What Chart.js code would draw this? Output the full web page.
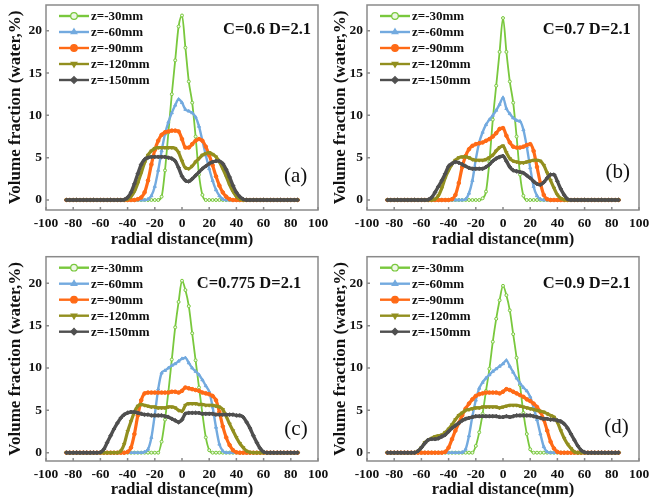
<!DOCTYPE html>
<html>
<head>
<meta charset="utf-8">
<script src="https://cdn.jsdelivr.net/npm/chart.js@4.4.0/dist/chart.umd.min.js"></script>
<style>
  html, body { margin: 0; padding: 0; background: #fff; }
  #wrap { position: relative; width: 661px; height: 502px; }
  #wrap canvas { position: absolute; }
</style>
</head>
<body>
<div id="wrap">
  <canvas id="chart-a" width="330" height="250" style="left:0;top:0"></canvas>
  <canvas id="chart-b" width="331" height="250" style="left:330px;top:0"></canvas>
  <canvas id="chart-c" width="330" height="252" style="left:0;top:250px"></canvas>
  <canvas id="chart-d" width="331" height="252" style="left:330px;top:250px"></canvas>
</div>
<script>
// radial positions (mm) shared by every profile
const radial = [-85, -82.5, -80, -77.5, -75, -72.5, -70, -67.5, -65, -62.5, -60, -57.5, -55, -52.5,
  -50, -47.5, -45, -42.5, -40, -37.5, -35, -32.5, -30, -27.5, -25, -22.5, -20, -17.5, -15, -12.5,
  -10, -7.5, -5, -2.5, 0, 2.5, 5, 7.5, 10, 12.5, 15, 17.5, 20, 22.5, 25, 27.5, 30, 32.5, 35, 37.5,
  40, 42.5, 45, 47.5, 50, 52.5, 55, 57.5, 60, 62.5, 65, 67.5, 70, 72.5, 75, 77.5, 80, 82.5, 85];

const seriesLabels = ['z=-30mm', 'z=-60mm', 'z=-90mm', 'z=-120mm', 'z=-150mm'];
const xTicks = [-100, -80, -60, -40, -20, 0, 20, 40, 60, 80, 100];
const yTicks = [0, 5, 10, 15, 20];

// C=0.6 D=2.1
const a_z30 = [0, 0, 0, 0, 0, 0, 0, 0, 0, 0, 0, 0, 0, 0, 0, 0, 0, 0, 0, 0, 0, 0, 0, 0, 0, 0, 0, 0,
  0.4, 3.5, 8.0, 12.5, 16.5, 20.5, 21.8, 18.0, 14.0, 11.5, 7.5, 3.0, 0.6,
  0, 0, 0, 0, 0, 0, 0, 0, 0, 0, 0, 0, 0, 0, 0, 0, 0, 0, 0, 0, 0, 0, 0, 0, 0, 0, 0, 0];
const a_z60 = [0, 0, 0, 0, 0, 0, 0, 0, 0, 0, 0, 0, 0, 0, 0, 0, 0, 0, 0, 0, 0, 0, 0, 0,
  0.1, 0.5, 1.6, 3.5, 5.8, 7.8, 9.2, 10.3, 11.2, 11.9, 11.5, 10.7, 10.5, 10.3, 9.8, 8.7, 7.0, 5.3, 3.7, 2.3, 1.2, 0.5, 0.1,
  0, 0, 0, 0, 0, 0, 0, 0, 0, 0, 0, 0, 0, 0, 0, 0, 0, 0, 0, 0, 0, 0];
const a_z90 = [0, 0, 0, 0, 0, 0, 0, 0, 0, 0, 0, 0, 0, 0, 0, 0, 0, 0, 0, 0, 0,
  0.1, 0.3, 0.9, 2.3, 4.2, 5.9, 7.0, 7.7, 8.0, 8.1, 8.2, 8.2, 8.1, 7.2, 6.2, 6.2, 6.6, 7.0, 7.2, 7.0, 6.3, 5.3, 4.1, 2.8, 1.7, 0.9, 0.4, 0.1,
  0, 0, 0, 0, 0, 0, 0, 0, 0, 0, 0, 0, 0, 0, 0, 0, 0, 0, 0, 0];
const a_z120 = [0, 0, 0, 0, 0, 0, 0, 0, 0, 0, 0, 0, 0, 0, 0, 0, 0, 0,
  0.1, 0.4, 1.0, 2.0, 3.2, 4.4, 5.3, 5.8, 6.1, 6.2, 6.2, 6.2, 6.2, 6.2, 6.1, 5.6, 4.6,
  3.8, 3.7, 4.0, 4.5, 4.9, 5.3, 5.5, 5.6, 5.4, 5.1, 4.5, 3.7, 2.8, 1.8, 1.0, 0.4, 0.1,
  0, 0, 0, 0, 0, 0, 0, 0, 0, 0, 0, 0, 0, 0, 0, 0, 0];
const a_z150 = [0, 0, 0, 0, 0, 0, 0, 0, 0, 0, 0, 0, 0, 0, 0, 0, 0,
  0.05, 0.3, 0.9, 1.9, 3.1, 4.2, 4.8, 5.0, 5.1, 5.1, 5.1, 5.1, 5.1, 5.0, 4.9, 4.6, 3.8, 2.8,
  2.3, 2.2, 2.5, 2.9, 3.3, 3.7, 4.0, 4.3, 4.5, 4.6, 4.6, 4.3, 3.6, 2.7, 1.7, 0.9, 0.4, 0.1,
  0, 0, 0, 0, 0, 0, 0, 0, 0, 0, 0, 0, 0, 0, 0, 0];

// C=0.7 D=2.1
const b_z30 = [0, 0, 0, 0, 0, 0, 0, 0, 0, 0, 0, 0, 0, 0, 0, 0, 0, 0, 0, 0, 0, 0, 0, 0, 0, 0, 0, 0,
  0.2, 1.0, 4.5, 9.5, 13.5, 17.5, 21.5, 17.5, 14.0, 11.5, 7.5, 3.0, 0.5,
  0, 0, 0, 0, 0, 0, 0, 0, 0, 0, 0, 0, 0, 0, 0, 0, 0, 0, 0, 0, 0, 0, 0, 0, 0, 0, 0, 0];
const b_z60 = [0, 0, 0, 0, 0, 0, 0, 0, 0, 0, 0, 0, 0, 0, 0, 0, 0, 0, 0, 0, 0, 0, 0,
  0.1, 0.8, 2.3, 4.8, 6.8, 8.0, 8.9, 9.5, 10.0, 10.6, 11.3, 12.1,
  10.8, 10.2, 9.7, 9.4, 9.3, 8.3, 6.3, 3.8, 1.6, 0.5, 0.1,
  0, 0, 0, 0, 0, 0, 0, 0, 0, 0, 0, 0, 0, 0, 0, 0, 0, 0, 0, 0, 0, 0, 0];
const b_z90 = [0, 0, 0, 0, 0, 0, 0, 0, 0, 0, 0, 0, 0, 0, 0, 0, 0, 0, 0,
  0.1, 0.6, 2.0, 3.9, 5.2, 6.0, 6.4, 6.6, 6.7, 6.8, 7.0, 7.2, 7.5, 7.9, 8.4, 8.5,
  7.6, 6.8, 6.3, 6.2, 6.2, 6.3, 6.5, 6.6, 5.8, 3.9, 2.0, 0.6, 0.1,
  0, 0, 0, 0, 0, 0, 0, 0, 0, 0, 0, 0, 0, 0, 0, 0, 0, 0, 0, 0, 0];
const b_z120 = [0, 0, 0, 0, 0, 0, 0, 0, 0, 0, 0, 0, 0, 0,
  0.1, 0.5, 1.4, 2.6, 3.5, 4.2, 4.7, 5.0, 5.1, 5.1, 5.0, 4.8, 4.7, 4.7, 4.7, 4.8, 5.0, 5.3, 5.8, 6.2, 6.4,
  5.6, 4.9, 4.6, 4.5, 4.4, 4.4, 4.5, 4.6, 4.7, 4.7, 4.6, 4.1, 3.2, 2.3, 1.4, 0.6, 0.2, 0.05,
  0, 0, 0, 0, 0, 0, 0, 0, 0, 0, 0, 0, 0, 0, 0, 0];
const b_z150 = [0, 0, 0, 0, 0, 0, 0, 0, 0, 0, 0, 0,
  0.05, 0.3, 0.9, 1.6, 2.3, 3.1, 4.0, 4.3, 4.5, 4.4, 4.2, 4.0, 3.8, 3.7, 3.7, 3.7, 3.7, 3.9, 4.2, 4.6, 4.9, 5.1, 5.2,
  4.6, 3.9, 3.5, 3.4, 3.3, 3.2, 2.9, 2.6, 2.2, 1.9, 1.8, 2.1, 2.6, 3.0, 3.0, 2.2, 1.3, 0.6, 0.1,
  0, 0, 0, 0, 0, 0, 0, 0, 0, 0, 0, 0, 0, 0, 0];

// C=0.775 D=2.1
const c_z30 = [0, 0, 0, 0, 0, 0, 0, 0, 0, 0, 0, 0, 0, 0, 0, 0, 0, 0, 0, 0, 0, 0, 0, 0, 0, 0, 0, 0,
  1.3, 3.9, 7.2, 11.0, 14.8, 17.8, 20.3, 19.2, 17.3, 14.1, 10.9, 7.7, 4.6, 1.8, 0.3,
  0, 0, 0, 0, 0, 0, 0, 0, 0, 0, 0, 0, 0, 0, 0, 0, 0, 0, 0, 0, 0, 0, 0, 0, 0, 0];
const c_z60 = [0, 0, 0, 0, 0, 0, 0, 0, 0, 0, 0, 0, 0, 0, 0, 0, 0, 0, 0, 0, 0, 0, 0,
  0.1, 0.4, 1.8, 4.5, 7.5, 9.4, 9.7, 10.0, 10.3, 10.5, 10.8, 11.1,
  11.2, 10.6, 10.0, 9.6, 9.2, 8.6, 7.9, 7.2, 5.4, 3.0, 1.0, 0.2,
  0, 0, 0, 0, 0, 0, 0, 0, 0, 0, 0, 0, 0, 0, 0, 0, 0, 0, 0, 0, 0, 0];
const c_z90 = [0, 0, 0, 0, 0, 0, 0, 0, 0, 0, 0, 0, 0, 0, 0, 0, 0, 0,
  0.1, 0.6, 2.2, 4.4, 6.2, 7.0, 7.1, 7.1, 7.1, 7.1, 7.1, 7.1, 7.1, 7.2, 7.2, 7.1, 7.3,
  7.7, 7.6, 7.5, 7.4, 7.3, 7.1, 7.0, 6.9, 6.7, 6.2, 4.8, 3.1, 1.8, 0.9, 0.3, 0.05,
  0, 0, 0, 0, 0, 0, 0, 0, 0, 0, 0, 0, 0, 0, 0, 0, 0, 0];
const c_z120 = [0, 0, 0, 0, 0, 0, 0, 0, 0, 0, 0, 0, 0, 0, 0, 0,
  0.2, 1.0, 2.5, 3.7, 4.8, 5.5, 5.7, 5.6, 5.5, 5.4, 5.4, 5.3, 5.3, 5.3, 5.4, 5.4, 5.3, 5.0, 4.9,
  5.6, 5.8, 5.8, 5.8, 5.7, 5.7, 5.6, 5.6, 5.6, 5.5, 5.4, 5.1, 4.3, 3.4, 2.6, 1.8, 1.1, 0.6, 0.2, 0.05,
  0, 0, 0, 0, 0, 0, 0, 0, 0, 0, 0, 0, 0, 0];
const c_z150 = [0, 0, 0, 0, 0, 0, 0, 0, 0, 0,
  0.05, 0.4, 1.2, 2.0, 2.8, 3.5, 4.1, 4.5, 4.7, 4.8, 4.8, 4.7, 4.6, 4.5, 4.5, 4.4, 4.4, 4.4, 4.4, 4.3, 4.2, 4.0, 3.8, 3.6, 3.9,
  4.6, 4.7, 4.7, 4.7, 4.7, 4.6, 4.6, 4.6, 4.6, 4.5, 4.5, 4.5, 4.5, 4.5, 4.5, 4.4, 4.4, 4.2, 3.6, 2.9, 2.0, 1.2, 0.5, 0.1,
  0, 0, 0, 0, 0, 0, 0, 0, 0, 0];

// C=0.9 D=2.1
const d_z30 = [0, 0, 0, 0, 0, 0, 0, 0, 0, 0, 0, 0, 0, 0, 0, 0, 0, 0, 0, 0, 0, 0, 0, 0, 0, 0,
  0.8, 2.4, 4.6, 7.3, 9.9, 13.1, 15.8, 18.0, 19.7, 18.6, 16.8, 14.0, 11.2, 8.0, 4.7, 2.2, 0.4,
  0, 0, 0, 0, 0, 0, 0, 0, 0, 0, 0, 0, 0, 0, 0, 0, 0, 0, 0, 0, 0, 0, 0, 0, 0, 0];
const d_z60 = [0, 0, 0, 0, 0, 0, 0, 0, 0, 0, 0, 0, 0, 0, 0, 0, 0, 0, 0, 0, 0, 0,
  0.05, 0.4, 2.0, 4.3, 6.2, 7.6, 8.3, 8.8, 9.2, 9.6, 9.9, 10.2, 10.5,
  10.9, 10.2, 9.5, 8.8, 8.2, 7.7, 7.3, 6.6, 5.3, 3.9, 2.2, 0.7, 0.1,
  0, 0, 0, 0, 0, 0, 0, 0, 0, 0, 0, 0, 0, 0, 0, 0, 0, 0, 0, 0, 0];
const d_z90 = [0, 0, 0, 0, 0, 0, 0, 0, 0, 0, 0, 0, 0, 0, 0, 0, 0,
  0.1, 0.6, 1.6, 2.6, 3.5, 4.4, 5.2, 5.8, 6.3, 6.7, 6.9, 7.0, 7.1, 7.1, 7.1, 7.1, 7.0, 7.2,
  7.5, 7.4, 7.2, 7.0, 6.8, 6.6, 6.3, 6.1, 5.8, 5.4, 4.8, 3.9, 2.6, 1.3, 0.5, 0.1,
  0, 0, 0, 0, 0, 0, 0, 0, 0, 0, 0, 0, 0, 0, 0, 0, 0, 0];
const d_z120 = [0, 0, 0, 0, 0, 0, 0, 0, 0,
  0.2, 0.6, 1.2, 1.5, 1.7, 1.9, 2.0, 2.1, 2.4, 2.8, 3.3, 3.9, 4.4, 4.7, 5.0, 5.1, 5.2, 5.3, 5.3, 5.4, 5.4, 5.4, 5.4, 5.4, 5.3, 5.4,
  5.5, 5.6, 5.6, 5.6, 5.5, 5.4, 5.3, 5.2, 5.1, 5.0, 4.9, 4.8, 4.6, 4.4, 4.2, 3.6, 2.6, 1.7, 1.0, 0.5, 0.1,
  0, 0, 0, 0, 0, 0, 0, 0, 0, 0, 0, 0, 0];
const d_z150 = [0, 0, 0, 0, 0, 0, 0, 0, 0,
  0.2, 0.6, 1.1, 1.5, 1.6, 1.6, 1.7, 1.9, 2.1, 2.5, 2.9, 3.2, 3.5, 3.8, 4.0, 4.1, 4.2, 4.3, 4.3, 4.3, 4.3, 4.3, 4.3, 4.3, 4.2, 4.2,
  4.3, 4.2, 4.3, 4.4, 4.4, 4.4, 4.4, 4.4, 4.3, 4.2, 4.1, 4.0, 4.0, 3.9, 3.9, 3.8, 3.7, 3.4, 2.9, 2.2, 1.5, 0.8, 0.3, 0.05,
  0, 0, 0, 0, 0, 0, 0, 0, 0, 0];

const serif = '"Liberation Serif", "Times New Roman", serif';

// one entry per profile depth: colour, marker and line weight
const lineStyles = [
  { color: '#79c83d', pointStyle: 'circle', fill: '#eef8e6', radius: 1.5, width: 1.8 },
  { color: '#73aadf', pointStyle: 'triangle', radius: 1.8, width: 2.4 },
  { color: '#ff6a16', pointStyle: 'circle', radius: 1.8, width: 3.2 },
  { color: '#928f1f', pointStyle: 'triangle', rotation: 180, radius: 1.9, width: 3.2 },
  { color: '#4f4f4f', pointStyle: 'rectRot', radius: 1.9, width: 3.4 },
];

const panels = [
  { id: 'chart-a', caption: 'C=0.6 D=2.1', tag: '(a)', series: [a_z30, a_z60, a_z90, a_z120, a_z150],
    yMin: -1.18, yMax: 23.04, pad: { left: 5, top: 5, right: 12, bottom: 0 }, yWidth: 41, xHeight: 40,
    captionAt: [62.5, 20.1], tagAt: [83.5, 2.8] },
  { id: 'chart-b', caption: 'C=0.7 D=2.1', tag: '(b)', series: [b_z30, b_z60, b_z90, b_z120, b_z150],
    yMin: -1.18, yMax: 23.04, pad: { left: 0, top: 5, right: 22, bottom: 0 }, yWidth: 37, xHeight: 40,
    captionAt: [61.6, 20.1], tagAt: [84.3, 3.2] },
  { id: 'chart-c', caption: 'C=0.775 D=2.1', tag: '(c)', series: [c_z30, c_z60, c_z90, c_z120, c_z150],
    yMin: -0.98, yMax: 23.14, pad: { left: 5, top: 6.7, right: 12, bottom: 2 }, yWidth: 41, xHeight: 39,
    captionAt: [49.3, 20.0], tagAt: [83.8, 2.7] },
  { id: 'chart-d', caption: 'C=0.9 D=2.1', tag: '(d)', series: [d_z30, d_z60, d_z90, d_z120, d_z150],
    yMin: -0.98, yMax: 23.14, pad: { left: 0, top: 6.7, right: 22, bottom: 2 }, yWidth: 37, xHeight: 39,
    captionAt: [61.6, 20.0], tagAt: [83.5, 3.0] },
];

// frame, inward ticks, inset legend and the panel texts
const panelDecor = {
  id: 'panelDecor',
  afterDatasetsDraw(chart, args, opts) {
    const { ctx, chartArea: a, scales: { x, y } } = chart;
    ctx.save();
    ctx.strokeStyle = '#8a8a8a';
    ctx.lineWidth = 1.5;
    ctx.strokeRect(a.left, a.top, a.right - a.left, a.bottom - a.top);
    ctx.beginPath();
    x.ticks.forEach(t => {
      const px = x.getPixelForValue(t.value);
      ctx.moveTo(px, a.bottom); ctx.lineTo(px, a.bottom - 3);
    });
    y.ticks.forEach(t => {
      const py = y.getPixelForValue(t.value);
      ctx.moveTo(a.left, py); ctx.lineTo(a.left + 3, py);
    });
    ctx.stroke();

    // legend
    ctx.font = 'bold 13px ' + serif;
    ctx.textBaseline = 'middle';
    ctx.textAlign = 'left';
    seriesLabels.forEach((label, i) => {
      const st = lineStyles[i];
      const ly = a.top + 11 + i * 16;
      ctx.strokeStyle = st.color;
      ctx.lineWidth = 2.4;
      ctx.beginPath();
      ctx.moveTo(a.left + 13, ly); ctx.lineTo(a.left + 43, ly);
      ctx.stroke();
      ctx.fillStyle = st.fill || st.color;
      ctx.lineWidth = 1.2;
      Chart.helpers.drawPoint(ctx, { pointStyle: st.pointStyle, radius: 3.3, rotation: st.rotation || 0, borderWidth: 1.2 }, a.left + 28, ly);
      ctx.fillStyle = '#111';
      ctx.fillText(label, a.left + 45, ly + 0.5);
    });

    ctx.fillStyle = '#111';
    ctx.textAlign = 'center';
    ctx.font = 'bold 16.5px ' + serif;
    ctx.fillText(opts.caption, x.getPixelForValue(opts.captionAt[0]), y.getPixelForValue(opts.captionAt[1]));
    ctx.font = '21px ' + serif;
    ctx.fillText(opts.tag, x.getPixelForValue(opts.tagAt[0]), y.getPixelForValue(opts.tagAt[1]));
    ctx.restore();
  }
};

const tickFont = { family: serif, size: 13.5, weight: 'bold' };

panels.forEach(p => {
  const datasets = p.series.map((vals, i) => {
    const st = lineStyles[i];
    return {
      label: seriesLabels[i],
      data: radial.map((r, k) => ({ x: r, y: vals[k] })),
      borderColor: st.color,
      borderWidth: st.width,
      pointStyle: st.pointStyle,
      pointRotation: st.rotation || 0,
      pointRadius: st.radius,
      pointBorderWidth: 1,
      pointBorderColor: st.color,
      pointBackgroundColor: st.fill || st.color,
      cubicInterpolationMode: 'monotone',
      order: 4 - i,
    };
  });

  new Chart(document.getElementById(p.id), {
    type: 'line',
    data: { datasets },
    options: {
      responsive: false,
      animation: false,
      layout: { padding: p.pad },
      plugins: {
        legend: { display: false },
        tooltip: { enabled: false },
        panelDecor: { caption: p.caption, tag: p.tag, captionAt: p.captionAt, tagAt: p.tagAt },
      },
      scales: {
        x: {
          type: 'linear', min: -100, max: 100,
          afterBuildTicks: s => { s.ticks = xTicks.map(v => ({ value: v })); },
          afterFit: s => { s.height = p.xHeight; s.paddingLeft = 0; s.paddingRight = 0; },
          grid: { display: false, drawTicks: false },
          border: { display: false },
          ticks: { font: tickFont, color: '#111', padding: 5, maxRotation: 0, minRotation: 0, autoSkip: false },
          title: { display: true, text: 'radial distance(mm)', color: '#111', padding: 0,
                   font: { family: serif, size: 16.5, weight: 'bold' } },
        },
        y: {
          type: 'linear', min: p.yMin, max: p.yMax,
          afterBuildTicks: s => { s.ticks = yTicks.map(v => ({ value: v })); },
          afterFit: s => { s.width = p.yWidth; s.paddingTop = 0; s.paddingBottom = 0; },
          grid: { display: false, drawTicks: false },
          border: { display: false },
          ticks: { font: tickFont, color: '#111', padding: 4 },
          title: { display: true, text: 'Volume fraction (water,%)', color: '#111', padding: 0,
                   font: { family: serif, size: 17, weight: 'bold' } },
        },
      },
    },
    plugins: [panelDecor],
  });
});
</script>
</body>
</html>
